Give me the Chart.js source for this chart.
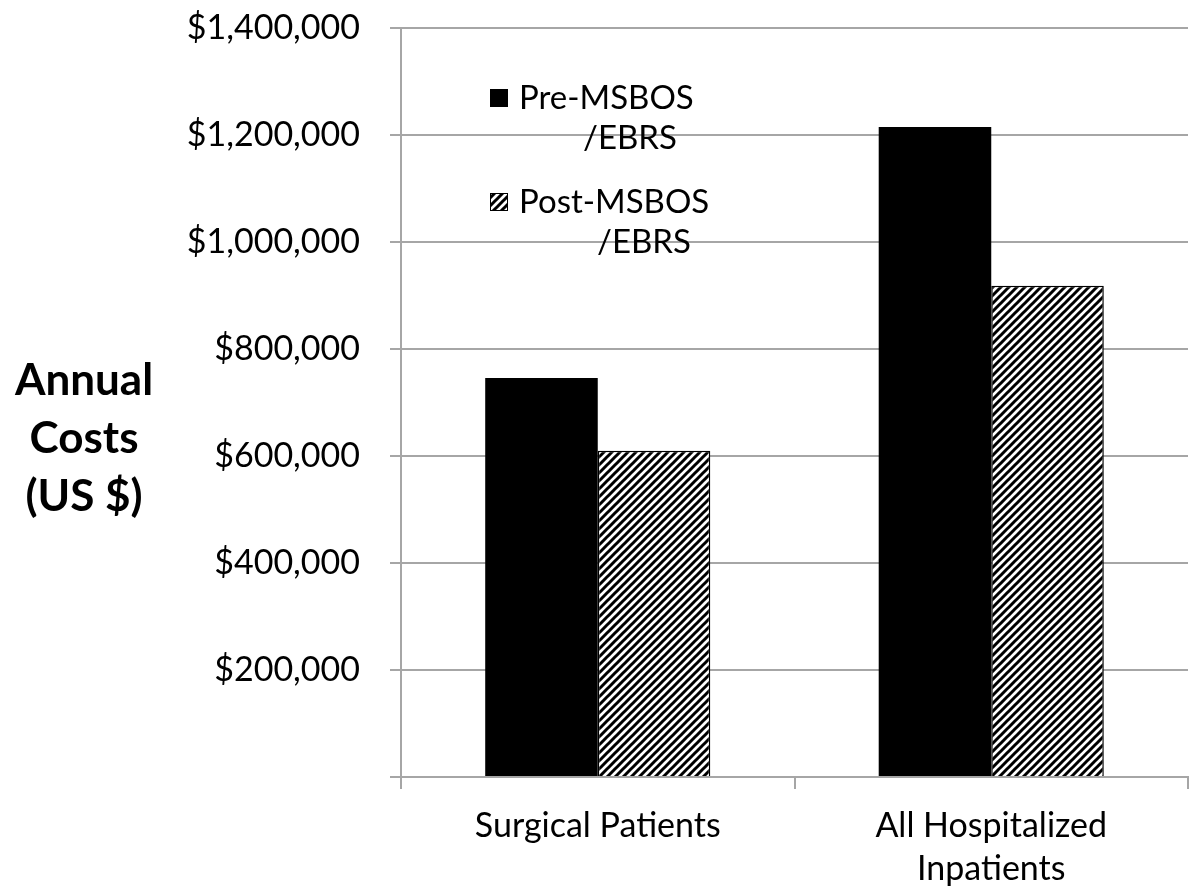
<!DOCTYPE html>
<html>
<head>
<meta charset="utf-8">
<script src="https://cdn.jsdelivr.net/npm/chart.js@4.4.1/dist/chart.umd.min.js"></script>
<style>
  html, body { margin: 0; padding: 0; background: #fff; }
  #wrap { width: 1193px; height: 893px; position: relative; }
</style>
</head>
<body>
<div id="wrap"><canvas id="myChart" width="1193" height="893"></canvas></div>
<script>
'use strict'

var categories = [['Surgical Patients'], ['All Hospitalized', 'Inpatients']];
var seriesNames = [['Pre-MSBOS', '/EBRS'], ['Post-MSBOS', '/EBRS']];
var preValues = [746000, 1215000];
var postValues = [610000, 918000];
var yTicks = [0, 200000, 400000, 600000, 800000, 1000000, 1200000, 1400000];
var yTitle = ['Annual', 'Costs', '(US $)'];

var FONT = 'Lato, "Open Sans", sans-serif';

// diagonal hatch, lines going up to the right
function makeHatch() {
    var size = 8;
    var c = document.createElement('canvas');
    c.width = size;
    c.height = size;
    var g = c.getContext('2d');
    g.fillStyle = '#fff';
    g.fillRect(0, 0, size, size);
    g.strokeStyle = '#000';
    g.lineWidth = 3;
    g.beginPath();
    g.moveTo(-1, size + 1); g.lineTo(size + 1, -1);
    g.moveTo(-2, 2); g.lineTo(2, -2);
    g.moveTo(size - 2, size + 2); g.lineTo(size + 2, size - 2);
    g.stroke();
    return g.createPattern(c, 'repeat');
}
var hatch = makeHatch();

function money(v) {
    return '$' + v.toLocaleString('en-US');
}

// y title drawn horizontally on the left, and the wrapped legend inside the plot
var extras = {
    id: 'extras',
    afterDraw: function (chart) {
        var ctx = chart.ctx;
        ctx.save();
        ctx.fillStyle = '#000';
        ctx.textBaseline = 'middle';
        ctx.textAlign = 'center';
        ctx.font = 'bold 44px ' + FONT;
        yTitle.forEach(function (line, i) {
            ctx.fillText(line, 84, 381 + i * 58);
        });

        ctx.textAlign = 'left';
        ctx.font = '33px ' + FONT;
        var boxes = ['#000', hatch];
        var tops = [98, 202];
        var indents = [64, 78];
        seriesNames.forEach(function (name, i) {
            var y = tops[i];
            ctx.fillStyle = boxes[i];
            ctx.fillRect(490, y - 9, 18, 18);
            if (i === 1) {
                ctx.strokeStyle = '#000';
                ctx.lineWidth = 1;
                ctx.strokeRect(490.5, y - 8.5, 17, 17);
            }
            ctx.fillStyle = '#000';
            ctx.fillText(name[0], 519, y);
            ctx.fillText(name[1], 519 + indents[i], y + 40);
        });
        ctx.restore();
    }
};

var ctx = document.getElementById('myChart').getContext('2d');

var myChart = new Chart(ctx, {
    type: 'bar',
    data: {
        labels: categories,
        datasets: [
        {
            label: seriesNames[0].join(''),
            data: preValues,
            backgroundColor: '#000',
            borderColor: '#000',
            borderWidth: 0,
            categoryPercentage: 0.572,
            barPercentage: 1.0
        },
        {
            label: seriesNames[1].join(''),
            data: postValues,
            backgroundColor: hatch,
            borderColor: '#000',
            borderWidth: 1.5,
            categoryPercentage: 0.572,
            barPercentage: 1.0
        }]
    },
    plugins: [extras],
    options: {
        responsive: false,
        animation: false,
        layout: {
            padding: { top: 28, right: 5, bottom: 0, left: 0 }
        },
        plugins: {
            legend: { display: false },
            tooltip: { enabled: false }
        },
        scales: {
            x: {
                grid: {
                    offset: true,
                    drawOnChartArea: false,
                    drawTicks: true,
                    tickLength: 12,
                    color: '#a6a6a6',
                    lineWidth: 2
                },
                border: { color: '#a6a6a6', width: 2 },
                ticks: {
                    color: '#000',
                    font: { family: FONT, size: 34, lineHeight: 1.25 },
                    padding: 16,
                    maxRotation: 0
                },
                afterFit: function (scale) { scale.height = 116; }
            },
            y: {
                min: 0,
                max: 1400000,
                afterBuildTicks: function (scale) {
                    scale.ticks = yTicks.map(function (v) { return { value: v }; });
                },
                grid: {
                    color: '#a6a6a6',
                    lineWidth: 2,
                    tickLength: 11
                },
                border: { color: '#a6a6a6', width: 2 },
                ticks: {
                    color: '#000',
                    font: { family: FONT, size: 34 },
                    padding: 30,
                    callback: function (v) { return v === 0 ? '' : money(v); }
                },
                afterFit: function (scale) {
                    scale.width = 401;
                    scale.paddingTop = 0;
                }
            }
        }
    }
});
</script>
</body>
</html>
